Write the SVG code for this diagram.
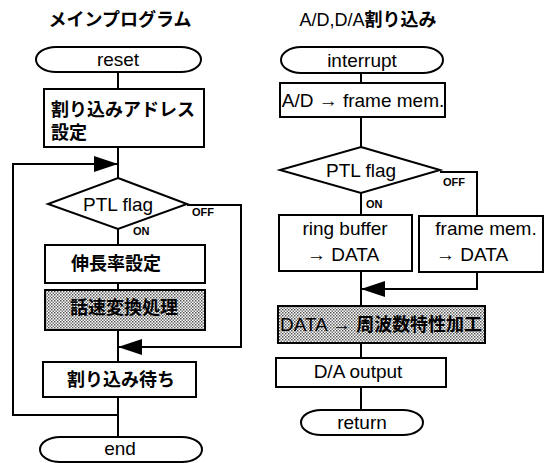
<svg xmlns="http://www.w3.org/2000/svg" width="546" height="463" viewBox="0 0 546 463">
<defs>
<pattern id="dots" width="3" height="3" patternUnits="userSpaceOnUse">
<rect width="3" height="3" fill="#ffffff"/>
<rect width="1.5" height="1.5" fill="#555555"/>
<rect x="1.5" y="1.5" width="1.5" height="1.5" fill="#777777"/>
</pattern>
<marker id="arr" markerUnits="userSpaceOnUse" markerWidth="24" markerHeight="16" refX="24" refY="8" orient="auto">
<path d="M0,0 L24,8 L0,16 z" fill="#000"/>
</marker>
</defs>
<style>
.box{fill:#fff;stroke:#000;stroke-width:2}
.shade{fill:url(#dots);stroke:#000;stroke-width:2}
.ln{fill:none;stroke:#000;stroke-width:2}
.t{font-family:"Liberation Sans","Noto Sans CJK JP",sans-serif;font-size:19px;fill:#000}
.j{font-family:"Liberation Sans","Noto Sans CJK JP",sans-serif;font-size:18px;font-weight:bold;fill:#000}
.s{font-family:"Liberation Sans",sans-serif;font-size:11px;font-weight:bold;fill:#000}
.c{text-anchor:middle}
</style>
<rect width="546" height="463" fill="#fff"/>
<g id="connectors">
<line class="ln" x1="118" y1="72" x2="118" y2="89"/>
<line class="ln" x1="118" y1="147" x2="118" y2="178"/>
<line class="ln" x1="118" y1="229" x2="118" y2="245"/>
<line class="ln" x1="118" y1="283" x2="118" y2="290"/>
<line class="ln" x1="118" y1="330" x2="118" y2="362"/>
<line class="ln" x1="118" y1="397" x2="118" y2="437"/>
<polyline class="ln" points="187,205 241,205 241,347 118,347" marker-end="url(#arr)"/>
<polyline class="ln" points="118,415 13,415 13,164 118,164" marker-end="url(#arr)"/>
<line class="ln" x1="361" y1="73" x2="361" y2="83"/>
<line class="ln" x1="361" y1="117" x2="361" y2="147"/>
<line class="ln" x1="361" y1="193" x2="361" y2="215"/>
<polyline class="ln" points="440,172 477,172 477,216"/>
<line class="ln" x1="361" y1="271" x2="361" y2="306"/>
<polyline class="ln" points="477,272 477,289 361,289" marker-end="url(#arr)"/>
<line class="ln" x1="361" y1="343" x2="361" y2="358"/>
<line class="ln" x1="361" y1="387" x2="361" y2="410"/>
</g>
<g id="title-main"><text class="j c" x="120" y="26" font-size="17">メインプログラム</text></g>
<g id="title-int"><text class="j c" x="368" y="26" font-size="17"><tspan font-weight="normal">A/D,D/A</tspan>割り込み</text></g>
<g id="reset">
<rect class="box" x="36" y="47" width="165" height="25" rx="20" ry="12.5"/>
<text class="t c" x="118" y="66">reset</text>
</g>
<g id="set-addr">
<rect class="box" x="44" y="89" width="160" height="58"/>
<text class="j" x="51" y="116">割り込みアドレス</text>
<text class="j" x="51" y="139">設定</text>
</g>
<g id="ptl1">
<polygon class="box" points="118,178 187,204 118,229 48,204"/>
<text class="t c" x="118" y="211">PTL flag</text>
<text class="s" x="192" y="216">OFF</text>
<text class="s" x="133" y="235">ON</text>
</g>
<g id="stretch">
<rect class="box" x="45" y="245" width="160" height="38"/>
<text class="j c" x="116" y="270">伸長率設定</text>
</g>
<g id="speech">
<rect class="shade" x="45" y="290" width="160" height="40"/>
<text class="j c" x="124" y="314">話速変換処理</text>
</g>
<g id="wait">
<rect class="box" x="43" y="362" width="153" height="35"/>
<text class="j c" x="121" y="386">割り込み待ち</text>
</g>
<g id="end">
<rect class="box" x="40" y="437" width="162" height="25" rx="20" ry="12.5"/>
<text class="t c" x="120" y="455">end</text>
</g>
<g id="interrupt">
<rect class="box" x="281" y="47" width="162" height="26" rx="20" ry="13"/>
<text class="t c" x="362" y="67">interrupt</text>
</g>
<g id="ad">
<rect class="box" x="280" y="83" width="165" height="34"/>
<text class="t c" x="363" y="107">A/D → frame mem.</text>
</g>
<g id="ptl2">
<polygon class="box" points="361,147 440,170 361,193 280,170"/>
<text class="t c" x="361" y="177">PTL flag</text>
<text class="s" x="443" y="186">OFF</text>
<text class="s" x="366" y="208">ON</text>
</g>
<g id="ring">
<rect class="box" x="279" y="215" width="133" height="56"/>
<text class="t c" x="345" y="235">ring buffer</text>
<text class="t c" x="343" y="261">→ DATA</text>
</g>
<g id="frame">
<rect class="box" x="419" y="216" width="124" height="56"/>
<text class="t c" x="486" y="235">frame mem.</text>
<text class="t" x="436" y="261">→ DATA</text>
</g>
<g id="freq">
<rect class="shade" x="278" y="306" width="207" height="37"/>
<text class="t" x="280" y="331" textLength="202" lengthAdjust="spacingAndGlyphs">DATA → <tspan font-weight="bold" font-size="18">周波数特性加工</tspan></text>
</g>
<g id="da">
<rect class="box" x="276" y="358" width="170" height="29"/>
<text class="t c" x="358" y="378">D/A output</text>
</g>
<g id="return">
<rect class="box" x="301" y="410" width="122" height="25" rx="20" ry="12.5"/>
<text class="t c" x="362" y="429">return</text>
</g>
</svg>
